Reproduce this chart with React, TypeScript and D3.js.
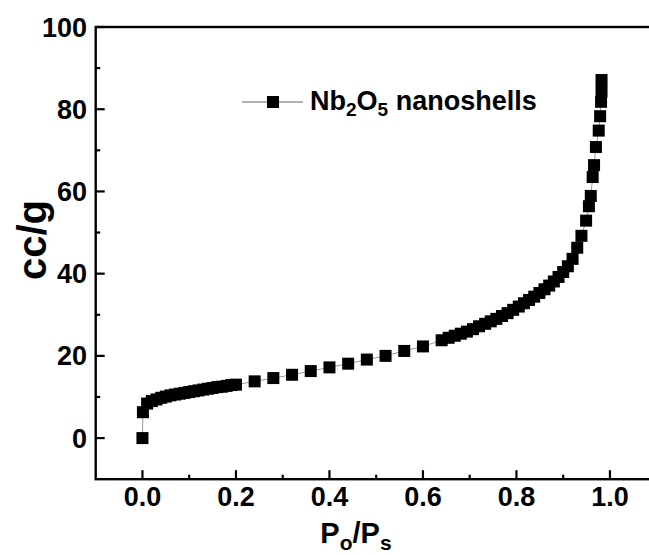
import React from "react";
import * as d3 from "d3";

// N2 adsorption isotherm: relative pressure vs adsorbed volume
const pressure = [
  0, 0.001, 0.01, 0.02, 0.03, 0.04, 0.05, 0.06, 0.07, 0.08, 0.09, 0.1, 0.11, 0.12,
  0.13, 0.14, 0.15, 0.16, 0.17, 0.18, 0.19, 0.2, 0.24, 0.28, 0.32, 0.36, 0.4, 0.44,
  0.48, 0.52, 0.56, 0.6, 0.64, 0.655, 0.668, 0.681, 0.694, 0.707, 0.72, 0.733, 0.745,
  0.757, 0.769, 0.781, 0.793, 0.805, 0.816, 0.827, 0.838, 0.849, 0.86, 0.87, 0.88,
  0.89, 0.9, 0.91, 0.92, 0.93, 0.939, 0.949, 0.955, 0.959, 0.963, 0.966, 0.97, 0.976,
  0.979, 0.981, 0.982, 0.982,
];
const volume = [
  0, 6.3, 8.4, 9.0, 9.4, 9.8, 10.1, 10.4, 10.6, 10.8, 11.0, 11.2, 11.4, 11.6,
  11.8, 12.0, 12.2, 12.4, 12.5, 12.7, 12.9, 13.0, 13.8, 14.6, 15.4, 16.3, 17.2, 18.1,
  19.1, 20.0, 21.2, 22.3, 23.8, 24.4, 24.9, 25.4, 25.9, 26.5, 27.2, 27.8, 28.4,
  29.0, 29.7, 30.4, 31.2, 32.0, 32.8, 33.6, 34.4, 35.3, 36.2, 37.1, 38.1,
  39.2, 40.4, 41.8, 43.6, 46.3, 49.2, 52.9, 56.4, 58.9, 63.5, 66.4, 70.8, 74.8,
  78.3, 81.8, 84.3, 87.1,
];

const xMajor = [0, 0.2, 0.4, 0.6, 0.8, 1.0];
const xMinor = [0.1, 0.3, 0.5, 0.7, 0.9];
const yMajor = [0, 20, 40, 60, 80, 100];
const yMinor = [10, 30, 50, 70, 90];
const seriesName = ["Nb", "2", "O", "5", " nanoshells"];

const W = 649;
const H = 555;
const FONT = "'Liberation Sans', Arial, sans-serif";

export default function App() {
  const x = d3.scaleLinear().domain([-0.1, 1.1]).range([95.7, 656.7]);
  const y = d3.scaleLinear().domain([-10, 100]).range([479.2, 27]);
  const pts = pressure.map((p, i) => [p, volume[i]] as [number, number]);
  const line = d3
    .line<[number, number]>()
    .x((d) => x(d[0]))
    .y((d) => y(d[1]));
  const [x0, x1] = x.range();
  const [yb, yt] = y.range();
  const ms = 12;
  const fmtX = d3.format(".1f");

  return (
    <svg
      width={W}
      height={H}
      style={{ position: "absolute", left: 0, top: 0, background: "#fff" }}
      fontFamily={FONT}
      fontWeight="bold"
    >
      <rect x={0} y={0} width={W} height={H} fill="#fff" />
      {/* data */}
      <path d={line(pts) ?? ""} fill="none" stroke="#999" strokeWidth={1} />
      {pts.map((d, i) => (
        <rect
          key={i}
          x={x(d[0]) - ms / 2}
          y={y(d[1]) - ms / 2}
          width={ms}
          height={ms}
          fill="#000"
        />
      ))}

      {/* frame */}
      <rect
        x={x0}
        y={yt}
        width={x1 - x0}
        height={yb - yt}
        fill="none"
        stroke="#000"
        strokeWidth={2.4}
      />

      {/* x ticks */}
      {xMajor.map((t) => (
        <g key={"xM" + t}>
          <line x1={x(t)} x2={x(t)} y1={yb} y2={yb - 9} stroke="#000" strokeWidth={2.2} />
          <text x={x(t)} y={506} textAnchor="middle" fontSize={27}>
            {fmtX(t)}
          </text>
        </g>
      ))}
      {xMinor.map((t) => (
        <line key={"xm" + t} x1={x(t)} x2={x(t)} y1={yb} y2={yb - 4.5} stroke="#000" strokeWidth={2.2} />
      ))}

      {/* y ticks */}
      {yMajor.map((t) => (
        <g key={"yM" + t}>
          <line x1={x0} x2={x0 + 9} y1={y(t)} y2={y(t)} stroke="#000" strokeWidth={2.2} />
          <text x={87} y={y(t) + 9.5} textAnchor="end" fontSize={27}>
            {t}
          </text>
        </g>
      ))}
      {yMinor.map((t) => (
        <line key={"ym" + t} x1={x0} x2={x0 + 4.5} y1={y(t)} y2={y(t)} stroke="#000" strokeWidth={2.2} />
      ))}

      {/* axis titles */}
      <text
        transform={`translate(46,240) rotate(-90)`}
        textAnchor="middle"
        fontSize={40}
      >
        cc/g
      </text>
      <text x={356} y={543} textAnchor="middle" fontSize={29}>
        P
        <tspan fontSize={21} dy={7}>o</tspan>
        <tspan dy={-7}>/P</tspan>
        <tspan fontSize={21} dy={7}>s</tspan>
      </text>

      {/* legend */}
      <line x1={242} x2={303} y1={102} y2={102} stroke="#999" strokeWidth={1.5} />
      <rect x={273 - ms / 2} y={102 - ms / 2} width={ms} height={ms} fill="#000" />
      <text x={310} y={110} fontSize={27}>
        {seriesName[0]}
        <tspan fontSize={19} dy={6}>{seriesName[1]}</tspan>
        <tspan dy={-6}>{seriesName[2]}</tspan>
        <tspan fontSize={19} dy={6}>{seriesName[3]}</tspan>
        <tspan dy={-6}>{seriesName[4]}</tspan>
      </text>
    </svg>
  );
}
